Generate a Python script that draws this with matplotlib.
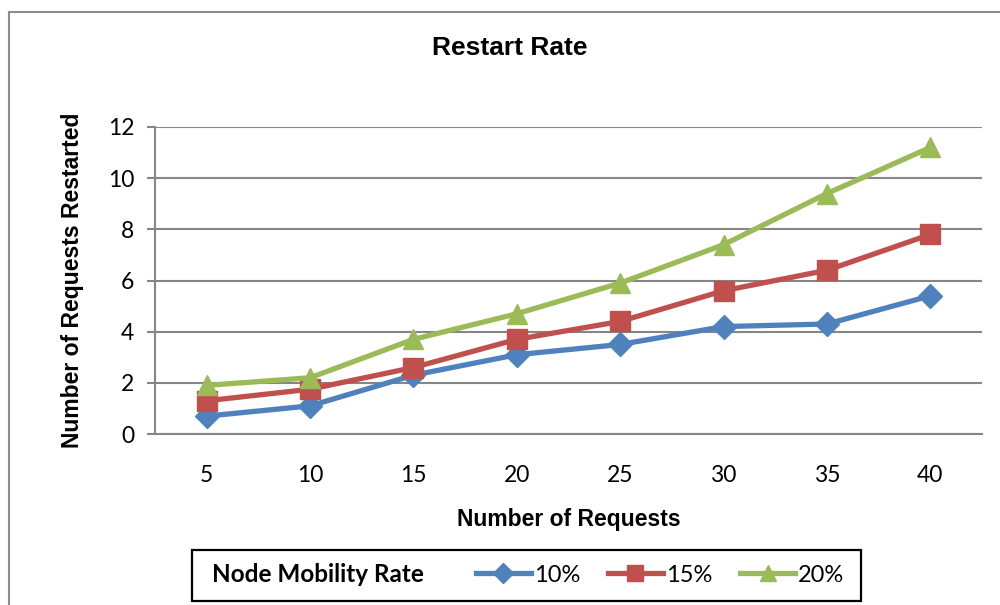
import matplotlib.pyplot as plt
from matplotlib.lines import Line2D
from matplotlib.patches import Rectangle

# Restart counts per node mobility rate
requests = [5, 10, 15, 20, 25, 30, 35, 40]
rate_10 = [0.7, 1.1, 2.3, 3.1, 3.5, 4.2, 4.3, 5.4]
rate_15 = [1.3, 1.75, 2.6, 3.7, 4.4, 5.6, 6.4, 7.8]
rate_20 = [1.9, 2.2, 3.7, 4.7, 5.9, 7.4, 9.4, 11.2]
series_labels = ['10%', '15%', '20%']

grid_col = '#868686'
tick_font = 'Lato'
bold_font = 'Liberation Sans'

fig = plt.figure(figsize=(10, 6.05), dpi=100)
ax = fig.add_axes([0.155, 0.2826, 0.827, 0.5075])

pos = list(range(len(requests)))
ax.plot(pos, rate_10, color='#4F81BD', lw=3.8, marker='D', ms=12.5, label=series_labels[0])
ax.plot(pos, rate_15, color='#C0504D', lw=3.8, marker='s', ms=14, label=series_labels[1])
ax.plot(pos, rate_20, color='#9BBB59', lw=3.8, marker='^', ms=14.5, label=series_labels[2])

ax.set_xlim(-0.5, len(requests) - 0.5)
ax.set_ylim(0, 12)
ax.set_yticks(range(0, 13, 2))
ax.set_xticks(pos)
ax.set_xticklabels([str(r) for r in requests])
ax.grid(axis='y', color=grid_col, lw=1.5)
ax.set_axisbelow(True)
for s in ['top', 'right']:
    ax.spines[s].set_visible(False)
for s in ['left', 'bottom']:
    ax.spines[s].set_color(grid_col)
    ax.spines[s].set_linewidth(1.5)
ax.tick_params(axis='y', length=6, width=1.5, color=grid_col, pad=9)
ax.tick_params(axis='x', length=0, pad=22)
for lbl in ax.get_xticklabels() + ax.get_yticklabels():
    lbl.set_fontfamily(tick_font)
    lbl.set_fontsize(16.5)

ax.set_xlabel('Number of Requests', fontfamily=bold_font, fontweight='bold', fontsize=16.5, labelpad=16)
ax.set_ylabel('Number of Requests Restarted', fontfamily=bold_font, fontweight='bold', fontsize=16.5, labelpad=17)
fig.text(0.51, 0.921, 'Restart Rate', ha='center', va='center',
         fontfamily=bold_font, fontweight='bold', fontsize=19)

# outer chart border
fig.add_artist(Line2D([0.009, 0.009], [0, 1 - 12 / 605], color='#8c8c8c', lw=1.5))
fig.add_artist(Line2D([0.009, 1.0], [1 - 12 / 605, 1 - 12 / 605], color='#8c8c8c', lw=1.5))

# legend box with its title on the left
fig.add_artist(Rectangle((0.192, (605 - 601) / 605), 0.669, 51 / 605, transform=fig.transFigure,
                         fill=False, edgecolor='black', lw=1.6))
fig.text(0.212, (605 - 575) / 605, 'Node Mobility Rate', ha='left', va='center',
         fontfamily=tick_font, fontweight='bold', fontsize=17.5)
fig.legend(loc='center left', bbox_to_anchor=(0.455, (605 - 575) / 605), ncol=3, frameon=False,
           prop={'family': tick_font, 'size': 17}, handlelength=2.3, handletextpad=0.13,
           columnspacing=1.2, markerscale=0.8)

fig.savefig('out.png', dpi=100)
